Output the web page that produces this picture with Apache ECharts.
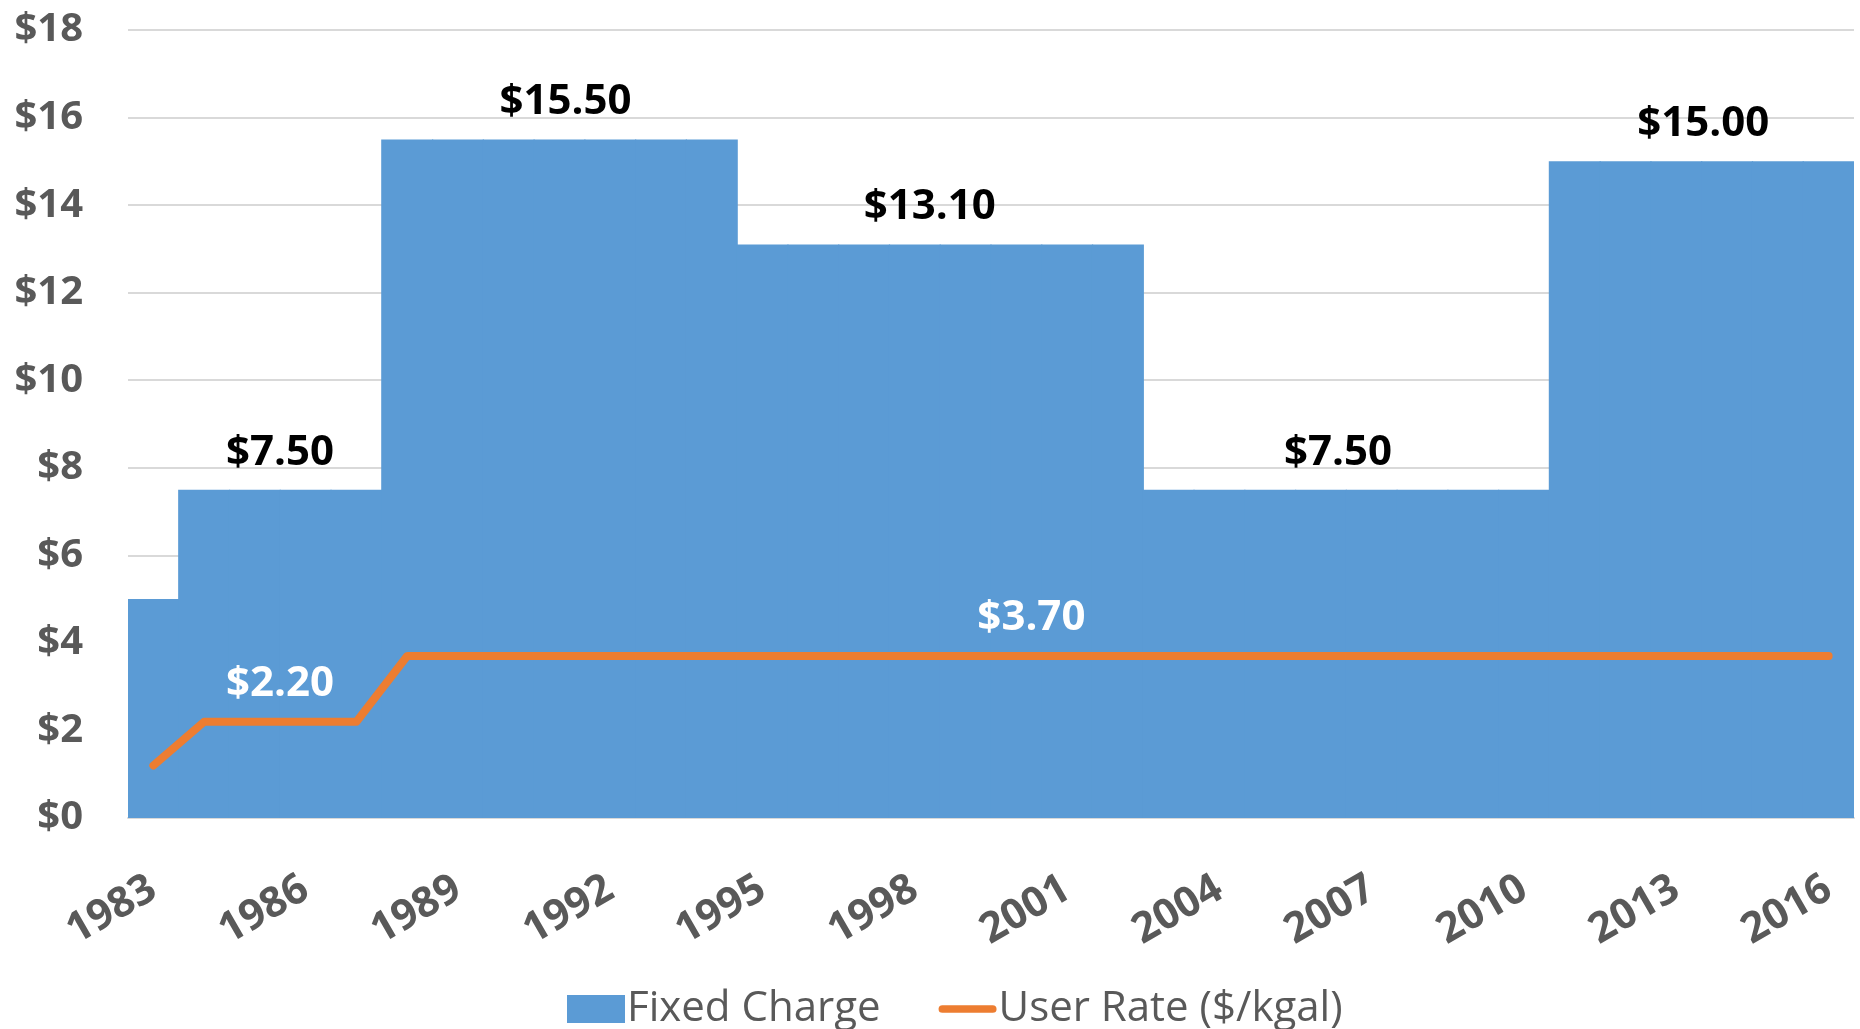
<!DOCTYPE html>
<html>
<head>
<meta charset="utf-8">
<script src="https://cdn.jsdelivr.net/npm/echarts@6/dist/echarts.min.js"></script>
<style>
  html, body { margin: 0; padding: 0; background: #fff; }
  #chart { width: 1860px; height: 1029px; }
</style>
</head>
<body>
<div id="chart"></div>
<script>
const years = [
  '1983', '1984', '1985', '1986', '1987', '1988', '1989', '1990', '1991', '1992',
  '1993', '1994', '1995', '1996', '1997', '1998', '1999', '2000', '2001', '2002',
  '2003', '2004', '2005', '2006', '2007', '2008', '2009', '2010', '2011', '2012',
  '2013', '2014', '2015', '2016'
];
const fixedCharge = [
  5.0, 7.5, 7.5, 7.5, 7.5, 15.5, 15.5, 15.5, 15.5, 15.5,
  15.5, 15.5, 13.1, 13.1, 13.1, 13.1, 13.1, 13.1, 13.1, 13.1,
  7.5, 7.5, 7.5, 7.5, 7.5, 7.5, 7.5, 7.5, 15.0, 15.0,
  15.0, 15.0, 15.0, 15.0
];
const userRate = [
  1.2, 2.2, 2.2, 2.2, 2.2, 3.7, 3.7, 3.7, 3.7, 3.7,
  3.7, 3.7, 3.7, 3.7, 3.7, 3.7, 3.7, 3.7, 3.7, 3.7,
  3.7, 3.7, 3.7, 3.7, 3.7, 3.7, 3.7, 3.7, 3.7, 3.7,
  3.7, 3.7, 3.7, 3.7
];
// which years carry a value label (one per step), and how far to nudge it
const fixedLabelYears = ['1985', '1991', '1998', '2006', '2013'];
const fixedLabelShift = [25, 6, 15, 17, 27];
const rateLabelYears = ['1985', '2000'];
const rateLabelShift = [25, 15];

const font = 'Open Sans';
const money = v => '$' + v.toFixed(2);
const blue = '#5b9bd5';
const orange = '#ed7d31';

const chart = echarts.init(document.getElementById('chart'));

chart.setOption({
  animation: false,
  textStyle: { fontFamily: font },
  grid: { left: 128, right: 6, top: 30, bottom: 211 },
  legend: {
    top: 983,
    left: 562,
    itemWidth: 58,
    itemHeight: 28,
    itemGap: 58,
    textStyle: { fontSize: 42, color: '#595959', padding: [0, 0, 0, -3] },
    data: [
      { name: 'Fixed Charge', icon: 'rect' },
      { name: 'User Rate ($/kgal)', icon: 'path://M4,0H56A4,4 0 0 1 56,8H4A4,4 0 0 1 4,0Z' }
    ]
  },
  xAxis: {
    type: 'category',
    data: years,
    axisLine: { lineStyle: { color: '#d9d9d9', width: 2 } },
    axisTick: { show: false },
    axisLabel: {
      interval: 2,
      rotate: 30,
      margin: 68,
      fontSize: 42,
      fontWeight: 'bold',
      color: '#595959'
    }
  },
  yAxis: {
    type: 'value',
    min: 0,
    max: 18,
    interval: 2,
    axisLabel: {
      formatter: v => '$' + v,
      fontSize: 40,
      fontWeight: 'bold',
      color: '#595959',
      margin: 45
    },
    splitLine: { lineStyle: { color: '#d9d9d9', width: 2 } }
  },
  series: [
    {
      name: 'Fixed Charge',
      type: 'bar',
      // a touch wider than the band so neighbouring bars leave no seams
      barWidth: 52,
      barGap: '-100%',
      itemStyle: { color: blue },
      data: fixedCharge.map((v, i) => {
        const k = fixedLabelYears.indexOf(years[i]);
        if (k < 0) return v;
        return {
          value: v,
          label: {
            show: true,
            position: 'top',
            distance: 16,
            offset: [fixedLabelShift[k], 0],
            formatter: p => money(p.value),
            fontSize: 42,
            fontWeight: 'bold',
            color: '#000'
          }
        };
      })
    },
    {
      name: 'User Rate ($/kgal)',
      type: 'line',
      symbol: 'none',
      lineStyle: { color: orange, width: 8, cap: 'round', join: 'round' },
      itemStyle: { color: orange },
      data: userRate.map((v, i) => {
        const k = rateLabelYears.indexOf(years[i]);
        if (k < 0) return v;
        return {
          value: v,
          symbol: 'circle',
          symbolSize: 1,
          label: {
            show: true,
            position: 'top',
            distance: 16,
            offset: [rateLabelShift[k], 0],
            formatter: p => money(p.value),
            fontSize: 42,
            fontWeight: 'bold',
            color: '#fff'
          }
        };
      })
    }
  ]
});
</script>
</body>
</html>
